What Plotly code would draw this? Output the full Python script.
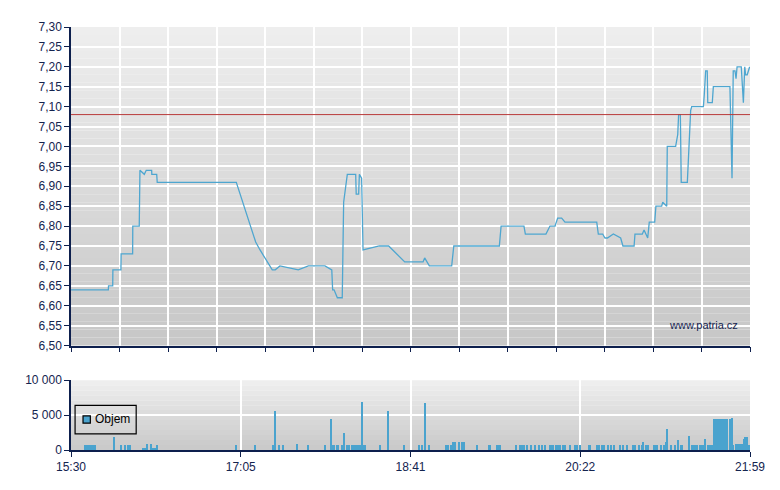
import plotly.graph_objects as go

LINE_COLOUR = '#4ea6d0'
BAR_COLOUR = '#4aa3ce'
AXIS_COLOUR = '#0d1f4d'
TEXT_COLOUR = '#14244f'
REF_COLOUR = '#b83a3a'

# session time in minutes-ish units from 15:30 (chart x axis is 0..389)
price_x = [0, 21.4, 21.5, 23.9, 24.0, 28.6, 28.7, 35.3, 35.4, 39.1, 39.5, 42.0, 43.1, 46.2, 46.3,
           49.1, 49.4, 94.7, 105.8, 108.3, 115.3, 117.0, 119.7, 130.2, 136.0, 145.5, 149.4, 149.9,
           150.7, 152.6, 155.4, 156.2, 158.3, 163.1, 163.4, 164.8, 165.2, 166.5, 167.3, 176.6,
           182.0, 191.2, 201.7, 202.6, 205.3, 218.1, 219.3, 245.4, 246.4, 259.5, 260.3, 272.1,
           274.4, 277.3, 278.8, 281.1, 283.0, 301.2, 302.1, 304.6, 305.9, 307.3, 310.7, 314.9,
           316.2, 322.6, 323.1, 327.3, 328.3, 330.4, 331.3, 334.4, 335.1, 338.4, 339.0, 341.3,
           341.6, 346.4, 347.6, 348.1, 349.1, 349.6, 353.1, 354.5, 355.0, 355.6, 362.3, 362.8,
           363.6, 364.5, 364.8, 367.4, 368.0, 377.5, 378.7, 379.4, 380.4, 381.0, 381.6, 384.0,
           385.2, 386.0, 386.5, 387.4, 388.8]
price_y = [6.64, 6.64, 6.65, 6.65, 6.69, 6.69, 6.73, 6.73, 6.80, 6.80, 6.94, 6.93, 6.94, 6.94, 6.93,
           6.93, 6.91, 6.91, 6.76, 6.74, 6.69, 6.69, 6.70, 6.69, 6.70, 6.70, 6.69, 6.64,
           6.64, 6.62, 6.62, 6.86, 6.93, 6.93, 6.88, 6.88, 6.93, 6.92, 6.74, 6.75,
           6.75, 6.71, 6.71, 6.72, 6.70, 6.70, 6.75, 6.75, 6.80, 6.80, 6.78, 6.78,
           6.80, 6.80, 6.82, 6.82, 6.81, 6.81, 6.78, 6.78, 6.77, 6.77, 6.78, 6.77,
           6.75, 6.75, 6.78, 6.78, 6.79, 6.77, 6.81, 6.81, 6.85, 6.85, 6.86, 6.85,
           7.00, 7.00, 7.03, 7.08, 7.08, 6.91, 6.91, 7.07, 7.09, 7.10, 7.10, 7.13,
           7.19, 7.19, 7.11, 7.11, 7.15, 7.15, 6.92, 7.19, 7.19, 7.17, 7.20, 7.20,
           7.11, 7.20, 7.18, 7.18, 7.20]

prev_close = 7.08

vol_x = [8.0, 9.2, 10.3, 11.5, 12.6, 13.7, 24.8, 28.8, 31.1, 32.8, 33.8, 41.4, 42.4, 43.7, 46.2,
         47.1, 48.3, 49.3, 94.7, 105.6, 115.6, 116.9, 119.3, 121.6, 129.6, 136.0, 145.7, 149.0,
         149.9, 150.8, 152.4, 153.1, 155.4, 156.6, 158.5, 159.4, 161.2, 162.3, 163.4, 164.6,
         165.6, 166.6, 167.6, 168.8, 177.2, 181.8, 190.9, 199.2, 201.3, 203.0, 205.3, 215.2,
         216.1, 217.9, 219.0, 220.0, 222.5, 224.0, 225.1, 232.8, 239.3, 240.4, 243.9, 245.0,
         245.6, 255.3, 257.6, 258.6, 259.9, 261.1, 263.9, 265.8, 268.1, 270.2, 271.7, 274.4,
         275.6, 276.3, 277.9, 279.2, 280.5, 281.7, 283.4, 285.9, 288.7, 290.1, 291.8, 296.8,
         297.7, 301.2, 301.9, 302.7, 304.2, 305.4, 307.8, 309.2, 311.1, 314.9, 316.1, 318.5,
         322.1, 323.5, 325.8, 327.0, 327.9, 329.8, 330.7, 334.2, 335.1, 336.1, 338.4, 339.7,
         340.9, 341.8, 343.7, 346.2, 347.9, 349.3, 350.2, 354.2, 355.8, 356.9, 357.7, 358.6,
         360.4, 361.3, 362.3, 363.4, 365.1, 366.1, 367.2, 368.4, 369.5, 370.7, 371.4, 372.4,
         373.5, 374.9, 376.2, 377.4, 378.7, 379.4, 381.0, 382.1, 383.3, 384.4, 385.6, 386.3,
         387.4, 388.6]
vol_y = [700, 700, 700, 700, 700, 700, 1860, 700, 700, 700, 700, 200, 200, 850, 850,
         200, 200, 700, 700, 700, 700, 5570, 700, 700, 850, 700, 700, 4430,
         700, 700, 700, 700, 700, 2430, 700, 700, 700, 700, 700, 700,
         700, 6900, 700, 700, 700, 5570, 700, 700, 700, 6760, 700, 700,
         700, 700, 1050, 1050, 1050, 1050, 1050, 700, 700, 700, 700, 700,
         700, 700, 700, 700, 700, 700, 700, 700, 700, 700, 700, 700,
         700, 700, 700, 700, 700, 700, 700, 700, 700, 700, 700, 700,
         700, 700, 700, 700, 700, 700, 700, 700, 700, 700, 700, 700,
         700, 700, 700, 700, 1050, 700, 700, 700, 700, 700, 700, 700,
         1050, 3000, 700, 700, 1430, 700, 700, 1950, 700, 700, 700, 700,
         700, 700, 700, 1570, 700, 700, 700, 4430, 4430, 4430, 4430, 4430,
         4430, 4430, 4430, 4430, 4570, 700, 850, 850, 850, 850, 1570, 1860,
         1860, 700]

tick_vals = [0, 97.25, 194.5, 291.75, 389]
tick_text = ['15:30', '17:05', '18:41', '20:22', '21:59']

fig = go.Figure()
fig.add_trace(go.Scatter(x=price_x, y=price_y, mode='lines', showlegend=False,
                         line={'color': LINE_COLOUR, 'width': 1.3}, xaxis='x', yaxis='y'))
fig.add_trace(go.Bar(x=vol_x, y=vol_y, name='Objem', width=0.8, showlegend=False,
                     marker={'color': BAR_COLOUR, 'line': {'width': 0}}, xaxis='x2', yaxis='y2'))

# grey gradient backgrounds (no gradient fill in plotly, so thin bands)
shapes = []
n = 40
for i in range(n):
    c = int(238 - (238 - 200) * i / (n - 1))
    shapes.append(dict(type='rect', xref='x domain', yref='y domain', x0=0, x1=1,
                       y0=1 - (i + 1) / n, y1=1 - i / n, layer='below', line={'width': 0},
                       fillcolor=f'rgb({c},{c},{c})'))
n2 = 14
for i in range(n2):
    c = int(238 - (238 - 202) * i / (n2 - 1))
    shapes.append(dict(type='rect', xref='x2 domain', yref='y2 domain', x0=0, x1=1,
                       y0=1 - (i + 1) / n2, y1=1 - i / n2, layer='below', line={'width': 0},
                       fillcolor=f'rgb({c},{c},{c})'))
shapes.append(dict(type='line', xref='x domain', yref='y', x0=0, x1=1, y0=prev_close, y1=prev_close,
                   line={'color': REF_COLOUR, 'width': 1}))

# legend box drawn by hand, plotly's legend is too roomy for this
shapes.append(dict(type='rect', xref='x2 domain', yref='y2 domain', x0=0.006, x1=0.096,
                   y0=0.23, y1=0.64, line={'color': 'black', 'width': 1.2}))
shapes.append(dict(type='rect', xref='x2 domain', yref='y2 domain', x0=0.0177, x1=0.0285,
                   y0=0.385, y1=0.49, fillcolor=BAR_COLOUR, line={'color': 'black', 'width': 1.2}))

axis_common = dict(showline=True, linecolor=AXIS_COLOUR, linewidth=1.5, ticks='outside',
                   tickcolor=AXIS_COLOUR, ticklen=5, gridcolor='white', gridwidth=1.5,
                   zeroline=False, tickfont={'color': TEXT_COLOUR, 'size': 12})

# page body has an 8px margin, so the figure is a bit smaller and shifted
fig.update_layout(
    width=772, height=482,
    margin={'l': 63, 'r': 30, 't': 17, 'b': 40},
    paper_bgcolor='white', plot_bgcolor='rgba(0,0,0,0)',
    font={'family': 'Liberation Sans, Arial, sans-serif', 'color': TEXT_COLOUR},
    separators=', ',
    bargap=0,
    shapes=shapes,
    showlegend=False,
    xaxis=dict(axis_common, domain=[0, 1], range=[0, 389], tick0=0, dtick=389 / 14,
               showticklabels=False, anchor='y'),
    yaxis=dict(axis_common, domain=[0.247, 1], range=[6.5, 7.3], dtick=0.05, tickformat='.2f',
               anchor='x'),
    xaxis2=dict(axis_common, domain=[0, 1], range=[0, 389], tickmode='array',
                tickvals=tick_vals, ticktext=tick_text, anchor='y2'),
    yaxis2=dict(axis_common, domain=[0, 0.165], range=[0, 10000], tickvals=[0, 5000, 10000],
                tickformat=',d', anchor='x2'),
    annotations=[
        dict(text='www.patria.cz', xref='x domain', yref='y domain', x=0.985, y=0.04,
             xanchor='right', yanchor='bottom', showarrow=False,
             font={'size': 11, 'color': TEXT_COLOUR}),
        dict(text='Objem', xref='x2 domain', yref='y2 domain', x=0.033, y=0.44,
             xanchor='left', yanchor='middle', showarrow=False,
             font={'size': 12, 'color': 'black'}),
    ],
)

fig.write_html("out.html")
